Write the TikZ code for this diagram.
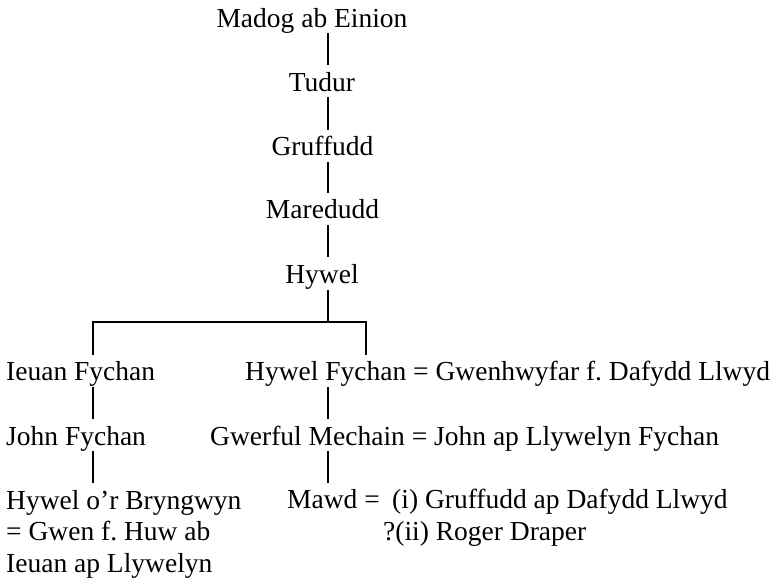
\documentclass[tikz,border=0pt]{standalone}
\usepackage{fontspec}
\setmainfont{Liberation Serif}
\frenchspacing
\begin{document}
\begin{tikzpicture}[x=1pt,y=-1pt,
  person/.style={font=\fontsize{27.5}{31.5}\selectfont, inner sep=0pt},
  chain/.style={person, anchor=base},
  leftname/.style={person, anchor=base west, align=left},
  link/.style={line width=1.3pt}]
\useasboundingbox (0,0) rectangle (782,581);
% top chain
\node[chain] (madog) at (312,27) {Madog ab Einion};
\node[chain] (tudur) at (322,91) {Tudur};
\node[chain] (gruffudd) at (322.5,155) {Gruffudd};
\node[chain] (maredudd) at (322.5,218) {Maredudd};
\node[chain] (hywel) at (322,283) {Hywel};
% children
\node[leftname] (ieuan) at (6,380) {Ieuan Fychan};
\node[leftname] (hywelf) at (245,380) {Hywel Fychan = Gwenhwyfar f. Dafydd Llwyd};
\node[leftname] (john) at (6,445) {John Fychan};
\node[leftname] (gwerful) at (210,445) {Gwerful Mechain = John ap Llywelyn Fychan};
\node[leftname] (hywelb) at (6,572) {Hywel o’r Bryngwyn\\= Gwen f. Huw ab\\Ieuan ap Llywelyn};
\node[leftname] (mawd) at (287,508) {Mawd =};
\node[leftname] (sp1) at (392,508) {(i) Gruffudd ap Dafydd Llwyd};
\node[leftname] (sp2) at (383,540) {?(ii) Roger Draper};
% connector end points
\coordinate (c1a) at (328,33);  \coordinate (c1b) at (328,65);
\coordinate (c2a) at (328,97);  \coordinate (c2b) at (328,130);
\coordinate (c3a) at (328,162); \coordinate (c3b) at (328,193);
\coordinate (c4a) at (328,225); \coordinate (c4b) at (328,257);
\coordinate (c5a) at (328,290); \coordinate (bar) at (328,322);
\coordinate (barl) at (93,322); \coordinate (barr) at (366,322);
\coordinate (dl) at (93,355);   \coordinate (dr) at (366,355);
\coordinate (c6a) at (93,387);  \coordinate (c6b) at (93,419);
\coordinate (c7a) at (93,451);  \coordinate (c7b) at (93,483);
\coordinate (c8a) at (328,387); \coordinate (c8b) at (328,419);
\coordinate (c9a) at (328,451); \coordinate (c9b) at (328,483);
\draw[link] (c1a) -- (c1b);
\draw[link] (c2a) -- (c2b);
\draw[link] (c3a) -- (c3b);
\draw[link] (c4a) -- (c4b);
\draw[link] (c5a) -- (bar);
\draw[link] (dl) -- (barl) -- (barr) -- (dr);
\draw[link] (c6a) -- (c6b);
\draw[link] (c7a) -- (c7b);
\draw[link] (c8a) -- (c8b);
\draw[link] (c9a) -- (c9b);
\end{tikzpicture}
\end{document}
